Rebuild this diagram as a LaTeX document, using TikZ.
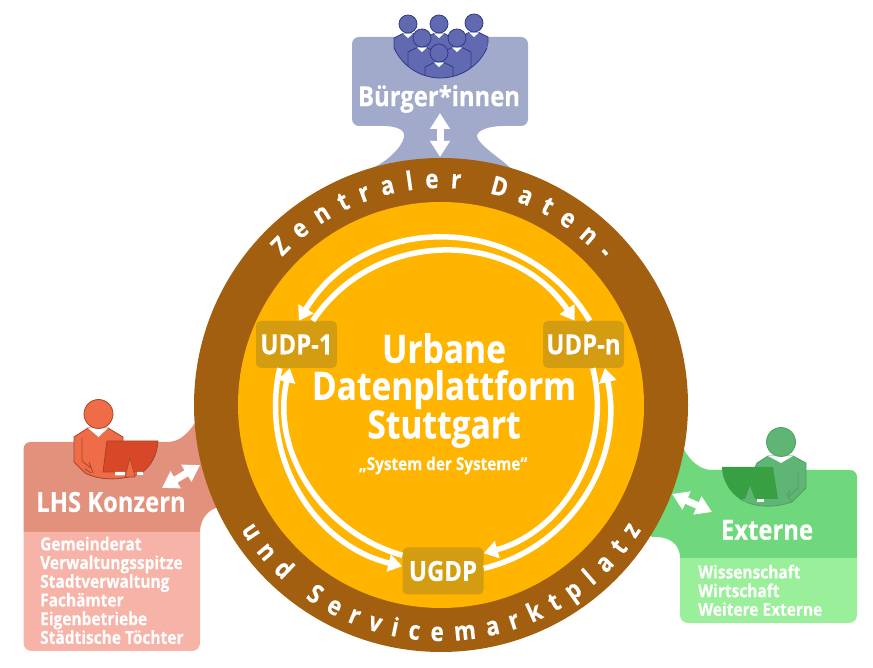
\documentclass[tikz,border=0pt]{standalone}
\usepackage{fontspec}
\setmainfont[FakeStretch=0.86,BoldFeatures={FakeBold=0.25}]{Open Sans}
\usetikzlibrary{arrows.meta,decorations.text}

\definecolor{ringbrown}{HTML}{A25F10}
\definecolor{platamber}{HTML}{FFB400}
\definecolor{udpbox}{HTML}{D49C10}
\definecolor{citpanel}{HTML}{A1AACB}
\definecolor{citfill}{HTML}{6169B0}
\definecolor{citline}{HTML}{2F3A8A}
\definecolor{lhspanel}{HTML}{E2927C}
\definecolor{lhslist}{HTML}{F7B3A7}
\definecolor{lhsfill}{HTML}{EE6C48}
\definecolor{lhsdark}{HTML}{D84727}
\definecolor{lhsline}{HTML}{A8452A}
\definecolor{extpanel}{HTML}{6FD87C}
\definecolor{extlist}{HTML}{9AEF9A}
\definecolor{extfill}{HTML}{5FB573}
\definecolor{extdark}{HTML}{38A043}
\definecolor{extline}{HTML}{4FA060}

\tikzset{
  flow/.style={draw=white,line width=5.5pt,-{Triangle[width=17pt,length=14pt]}},
  sidearrow/.style={draw=white,line width=7pt,
    {Triangle[width=19pt,length=16pt]}-{Triangle[width=19pt,length=16pt]}},
  ringtext/.style={decorate,decoration={text along path,text align={fit to path},
    text={|\fontsize{26}{26}\selectfont\bfseries\color{white}|#1}}},
  paneltitle/.style={text=white,inner sep=0pt,font=\fontsize{27.7}{27.7}\selectfont\bfseries},
  panellist/.style={text=white,inner sep=0pt,anchor=north west,align=left,
    font=\fontsize{18}{18.7}\selectfont\bfseries},
}

% one bust of the citizen group
\newcommand{\bust}[2]{
  \fill[citfill,draw=citline,line width=0.8pt]
    (#1-14,#2-14) -- (#1-5,#2-9.5) -- (#1+5,#2-9.5) -- (#1+14,#2-14)
    -- (#1+14,#2-50) -- (#1-14,#2-50) -- cycle;
  \fill[white] (#1-5,#2-9.5) -- (#1,#2-14) -- (#1+5,#2-9.5) -- cycle;
  \fill[citfill,draw=citline,line width=0.8pt] (#1,#2) circle[radius=9];
}

\begin{document}
\begin{tikzpicture}[x=1pt,y=1pt]
  \useasboundingbox (0,0) rectangle (873,668);

  % panels
  \fill[citpanel,rounded corners=7pt] (352,542) rectangle (528,631);
  \fill[citpanel] (383,542) .. controls (398,542) and (406,537) .. (404,531)
    .. controls (402,520) and (385,505) .. (372,500) -- (513,498)
    .. controls (500,510) and (480,522) .. (477,531)
    .. controls (476,538) and (490,542) .. (503,542) -- cycle;

  \fill[lhspanel] (23.5,136) [rounded corners=7pt] -- (23.5,226) [sharp corners] -- (167,226)
    .. controls (180,226) and (188,235) .. (195,245) -- (230,245) -- (235,160) -- (220,161)
    .. controls (210,160) and (200,150) .. (200,136) -- cycle;
  \fill[lhslist] (23.5,136) [rounded corners=8pt] -- (23.5,17) -- (200,17) [sharp corners] -- (200,136) -- cycle;

  \fill[extpanel] (712,198) [rounded corners=7pt] -- (857,198) [sharp corners] -- (857,110) -- (680,110)
    .. controls (680,125) and (668,132) .. (652,131) -- (640,140) -- (660,225) -- (683,220)
    .. controls (690,207) and (700,198) .. (712,198) -- cycle;
  \fill[extlist] (680,110) [rounded corners=8pt] -- (680,45) -- (857,45) [sharp corners] -- (857,110) -- cycle;

  % ring and platform
  \fill[ringbrown] (441,263) circle[radius=247];
  \fill[platamber] (441,263) circle[radius=203];

  \path[ringtext={Zentraler Daten-}] (441,263) ++(137:217) arc[start angle=137,end angle=42,radius=217];
  \path[ringtext={und Servicemarktplatz}] (441,263) ++(212:236) arc[start angle=212,end angle=328,radius=236];

  \begin{scope}[every node/.style={fill=udpbox,text=white,rounded corners=5pt,minimum width=81pt,
      minimum height=47pt,inner sep=0pt,font=\fontsize{27.8}{27.8}\selectfont\bfseries}]
    \node (udp1) at (296.5,323.5) {UDP-1};
    \node (udpn) at (583.5,323.5) {UDP-n};
    \node (ugdp) at (443,97) {UGDP};
  \end{scope}

  \draw[flow] ([xshift=47pt]udpn.north west) to[out=120.8,in=59,looseness=1.13] ([xshift=43pt]udp1.north west);
  \draw[flow] ([xshift=57pt]udp1.north west) to[out=56.4,in=123.9,looseness=1.09] ([xshift=32pt]udpn.north west);
  \draw[flow] ([xshift=24pt]udp1.south west) to[out=257.1,in=166.4,looseness=1] ([yshift=-19pt]ugdp.north west);
  \draw[flow] ([yshift=-8pt]ugdp.north west) to[out=164,in=256.8,looseness=.99] ([xshift=34pt]udp1.south west);
  \draw[flow] ([yshift=-21pt]ugdp.north east) to[out=13.3,in=282.5,looseness=1] ([xshift=62pt]udpn.south west);
  \draw[flow] ([xshift=50pt]udpn.south west) to[out=-76,in=15.3,looseness=.99] ([yshift=-6pt]ugdp.north east);

  \node[text=white,inner sep=0pt,align=center,font=\fontsize{39}{37}\selectfont\bfseries] (title) at (444,277.5)
    {Urbane\\Datenplattform\\Stuttgart};
  \node[text=white,inner sep=0pt,font=\fontsize{17.8}{17.8}\selectfont\bfseries] (motto) at (443,202.5)
    {„System der Systeme“};

  % arrows between panels and ring
  \coordinate (cita) at (440,555);
  \coordinate (citb) at (440,511);
  \draw[sidearrow] (cita) -- (citb);
  \coordinate (lhsa) at (162,180);
  \coordinate (lhsb) at (200,203);
  \draw[sidearrow] (lhsa) -- (lhsb);
  \coordinate (exta) at (672,174);
  \coordinate (extb) at (712,156);
  \draw[sidearrow] (exta) -- (extb);

  % panel texts
  \node[paneltitle] (cit) at (439,569) {Bürger*innen};
  \node[paneltitle] (lhs) at (111,166) {LHS Konzern};
  \node[paneltitle] (ext) at (767,138) {Externe};
  \node[panellist] (lhslines) at (40,131.5)
    {Gemeinderat\\Verwaltungsspitze\\Stadtverwaltung\\Fachämter\\Eigenbetriebe\\Städtische Töchter};
  \node[panellist] (extlines) at (698,103.5) {Wissenschaft\\Wirtschaft\\Weitere Externe};

  % citizen group
  \begin{scope}
    \clip (440.5,641) circle[radius=51];
    \bust{408}{644}
    \bust{439}{644}
    \bust{474}{645}
    \bust{422}{630}
    \bust{457}{630}
    \bust{439}{615}
  \end{scope}
  \draw[citline,line width=0.8pt] (440.5,641) ++(204.3:51) arc[start angle=204.3,end angle=335.7,radius=51];

  % city employee
  \fill[lhsfill,draw=lhsline,line width=0.8pt] (74,231) -- (88,240) -- (108,240) -- (123,231)
    -- (123,205) -- (143,196) .. controls (125,187) and (100,187) .. (85,195) -- (74,206) -- cycle;
  \fill[white] (88,240) -- (98.5,231) -- (108,240) -- cycle;
  \fill[lhsfill,draw=lhsline,line width=0.8pt] (98.5,254) circle[radius=14.5];
  \draw[lhsline,line width=0.8pt] (82,230) -- (82,207) -- (91,200) (89,206) -- (93,195) (85,199) -- (91,195);
  \fill[lhsdark,draw=lhsline,line width=0.8pt] (107,227) -- (158,227)
    .. controls (157,212) and (151,203) .. (143,196) -- (103,196) -- cycle;
  \fill[white] (115,192.5) rectangle (125,196) (137,193) rectangle (143,196);
  \fill[lhsfill,draw=lhsline,line width=0.6pt] (130,210) -- (135,191) -- (125,191) -- cycle;

  % external partner
  \fill[extfill,draw=extline,line width=0.8pt] (757,205) -- (768,212) -- (793,212) -- (806,205)
    -- (806,180) -- (792,166) .. controls (775,160) and (755,160) .. (740,169) -- cycle;
  \fill[white] (768,212) -- (781,205) -- (793,212) -- cycle;
  \fill[extfill,draw=extline,line width=0.8pt] (781,226) circle[radius=14.5];
  \draw[extline,line width=0.8pt] (798,197) -- (798,180) -- (788,171) -- (792,166) (787,172) -- (790,178);
  \fill[extdark] (722,201) -- (773,201) -- (778,169) -- (740,169) .. controls (730,175) and (722,188) .. (722,201) -- cycle;
  \fill[white] (757,166) rectangle (764,169);
  \fill[extfill] (750,182) -- (756,166) -- (744,166) -- cycle;
\end{tikzpicture}
\end{document}
